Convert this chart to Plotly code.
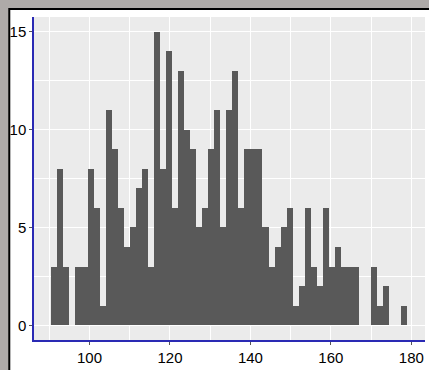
import plotly.graph_objects as go

# Histogram: counts per 1.5-wide bin starting at 90.5
bin_start = 90.5
bin_width = 1.5
counts = [3, 8, 3, 0, 3, 3, 8, 6, 1, 11, 9, 6, 4, 5, 7, 8,
          3, 15, 8, 14, 6, 13, 10, 9, 5, 6, 9, 11, 5, 11, 13, 6,
          9, 9, 9, 5, 3, 4, 5, 6, 1, 2, 6, 3, 2, 6, 3, 4,
          3, 3, 3, 0, 0, 3, 1, 2, 0, 0, 1]
centers = [bin_start + bin_width * (i + 0.5) for i in range(len(counts))]

x_ticks = [100, 120, 140, 160, 180]
y_ticks = [0, 5, 10, 15]

font_family = "Liberation Sans, Arial, sans-serif"
tick_font = dict(family=font_family, size=15, color="#000000")

fig = go.Figure(
    go.Bar(
        x=centers,
        y=counts,
        width=bin_width,
        marker=dict(color="#595959", line=dict(width=0)),
        hoverinfo="x+y",
    )
)

fig.update_layout(
    width=429,
    height=370,
    margin=dict(l=34, r=4, t=17, b=27),
    paper_bgcolor="#aeaaa8",
    plot_bgcolor="#ebebeb",
    bargap=0,
    showlegend=False,
    font=tick_font,
    shapes=[
        # white panel with black frame
        dict(type="rect", xref="paper", yref="paper",
             x0=-0.0632, x1=1.05, y0=-0.12, y1=1.0245,
             fillcolor="white", line=dict(color="black", width=2),
             layer="below"),
        # plotting area background
        dict(type="rect", xref="paper", yref="paper",
             x0=0, x1=1, y0=0, y1=1,
             fillcolor="#ebebeb", line=dict(width=0),
             layer="below"),
    ],
)

fig.update_xaxes(
    range=[86.2, 183.4],
    tickvals=x_ticks,
    ticktext=[str(v) for v in x_ticks],
    showgrid=True, gridcolor="white", gridwidth=1.2,
    minor=dict(dtick=10, tick0=0, showgrid=True, gridcolor="white",
               gridwidth=0.6, ticks=""),
    zeroline=False,
    showline=True, linecolor="#2a2ab4", linewidth=1.5,
    ticks="outside", ticklen=3, tickwidth=1, tickcolor="#555555",
    tickfont=tick_font,
)

fig.update_yaxes(
    range=[-0.75, 15.75],
    tickvals=y_ticks,
    ticktext=[str(v) for v in y_ticks],
    showgrid=True, gridcolor="white", gridwidth=1.2,
    minor=dict(dtick=2.5, tick0=0, showgrid=True, gridcolor="white",
               gridwidth=0.6, ticks=""),
    zeroline=False,
    showline=True, linecolor="#2a2ab4", linewidth=1.5,
    ticks="outside", ticklen=3, tickwidth=1, tickcolor="#555555",
    tickfont=tick_font,
)

fig.write_html("out.html")
